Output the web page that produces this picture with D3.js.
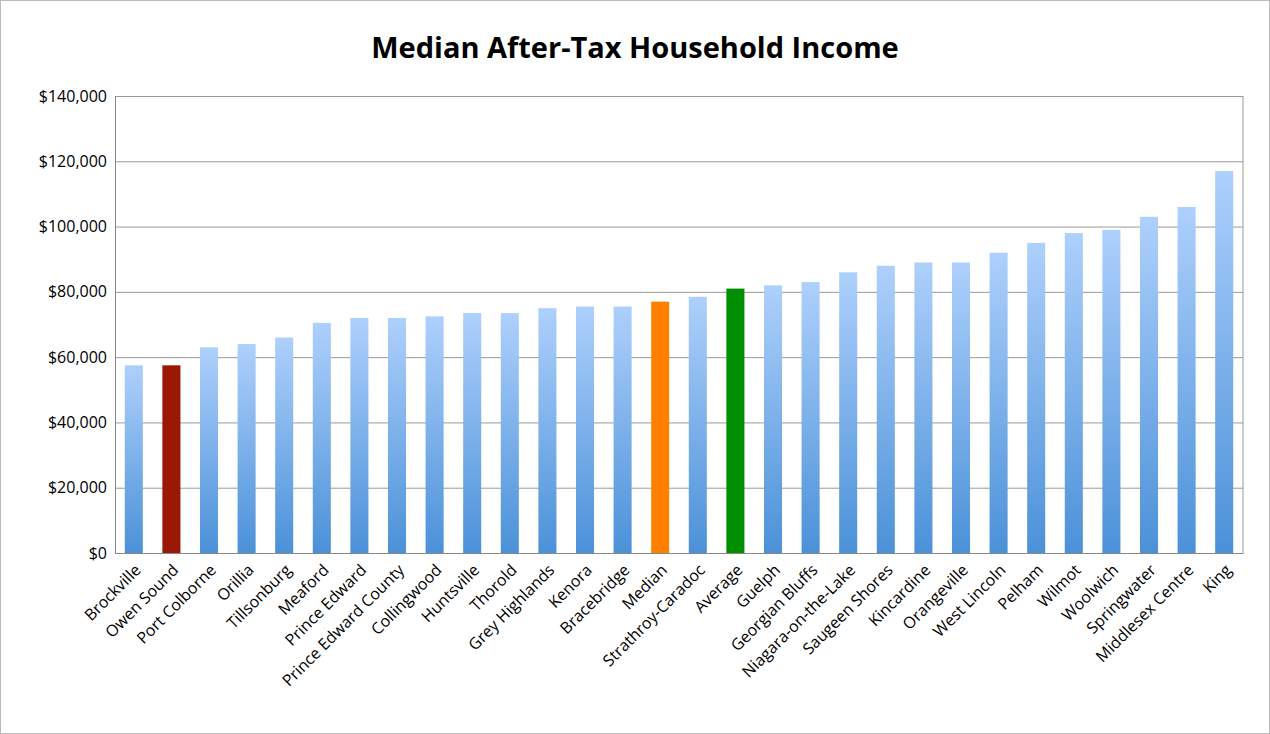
<!DOCTYPE html>
<html><head><meta charset="utf-8">
<script src="https://d3js.org/d3.v7.min.js"></script>
<style>body{margin:0;background:#fff}svg{font-family:"Open Sans",sans-serif}</style>
</head><body><svg id="chart" width="1270" height="734"></svg>
<script>
var towns = ["Brockville","Owen Sound","Port Colborne","Orillia","Tillsonburg","Meaford","Prince Edward","Prince Edward County","Collingwood","Huntsville","Thorold","Grey Highlands","Kenora","Bracebridge","Median","Strathroy-Caradoc","Average","Guelph","Georgian Bluffs","Niagara-on-the-Lake","Saugeen Shores","Kincardine","Orangeville","West Lincoln","Pelham","Wilmot","Woolwich","Springwater","Middlesex Centre","King"];
var incomes = [57500,57500,63000,64000,66000,70500,72000,72000,72500,73500,73500,75000,75500,75500,77000,78500,81000,82000,83000,86000,88000,89000,89000,92000,95000,98000,99000,103000,106000,117000];
var yTicks = [0,20000,40000,60000,80000,100000,120000,140000];
var special = {"Owen Sound":"#9a1706","Median":"#ff7f00","Average":"#008f00"};

var svg = d3.select("#chart");
svg.append("rect").attr("x",0.5).attr("y",0.5).attr("width",1269).attr("height",733)
  .attr("fill","none").attr("stroke","#bbb");

var margin = {top:96, left:115, right:27, bottom:181},
    width = 1270 - margin.left - margin.right,
    height = 734 - margin.top - margin.bottom;

var defs = svg.append("defs");
var grad = defs.append("linearGradient").attr("id","barGrad").attr("x1",0).attr("y1",0).attr("x2",0).attr("y2",1);
grad.append("stop").attr("offset","0%").attr("stop-color","#aed0fc");
grad.append("stop").attr("offset","100%").attr("stop-color","#4b91d8");

svg.append("text").attr("x",635).attr("y",58).attr("text-anchor","middle")
  .attr("font-size",29).attr("font-weight","bold").attr("fill","#000")
  .text("Median After-Tax Household Income");

var g = svg.append("g").attr("transform","translate("+margin.left+","+margin.top+")");

var x = d3.scaleBand().domain(towns).range([0,width]).paddingInner(0.52).paddingOuter(0.26);
var y = d3.scaleLinear().domain([0,140000]).range([height,0]);

g.append("g").call(d3.axisLeft(y).tickValues(yTicks).tickSize(-width).tickFormat(d3.format("$,")))
  .attr("font-family","'Open Sans',sans-serif")
  .call(function(a){
    a.select(".domain").attr("stroke","#888");
    a.selectAll(".tick line").attr("stroke","#999");
    a.selectAll(".tick text").attr("font-size",16).attr("fill","#000").attr("x",-8);
  });
g.append("line").attr("x1",width).attr("x2",width).attr("y1",0).attr("y2",height).attr("stroke","#999");

g.selectAll(".bar").data(towns).enter().append("rect")
  .attr("x",function(d){return x(d);})
  .attr("width",x.bandwidth())
  .attr("y",function(d,i){return y(incomes[i]);})
  .attr("height",function(d,i){return height-y(incomes[i]);})
  .attr("fill",function(d){return special[d]||"url(#barGrad)";});

g.append("g").attr("transform","translate(0,"+height+")")
  .call(d3.axisBottom(x).tickSize(0))
  .attr("font-family","'Open Sans',sans-serif")
  .call(function(a){
    a.select(".domain").attr("stroke","#888");
    a.selectAll(".tick text").attr("font-size",16).attr("fill","#000")
      .attr("text-anchor","end").attr("dy","0.35em")
      .attr("transform","translate(2,12) rotate(-45)");
  });
</script></body></html>
